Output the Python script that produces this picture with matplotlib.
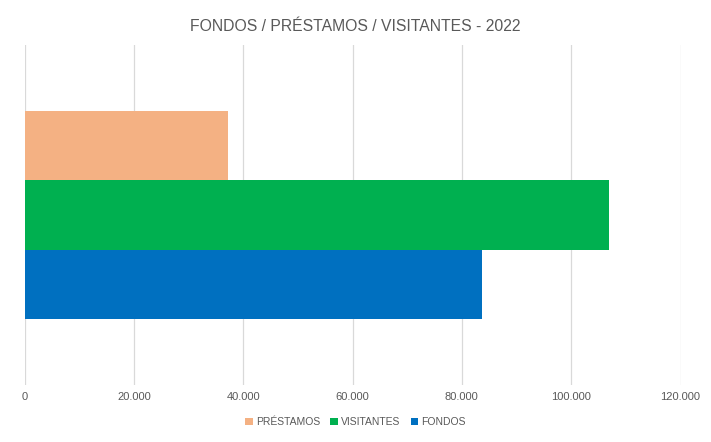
import matplotlib.pyplot as plt
from matplotlib.ticker import FuncFormatter

# data
series = ['PRÉSTAMOS', 'VISITANTES', 'FONDOS']
values = [37200, 107000, 83600]
colors = ['#F4B183', '#00B050', '#0070C0']
xticks = [0, 20000, 40000, 60000, 80000, 100000, 120000]

plt.rcParams['font.family'] = ['Liberation Sans', 'DejaVu Sans']

fig = plt.figure(figsize=(7.11, 4.42), dpi=100)
ax = fig.add_axes([24.5 / 711, 57 / 442, 656 / 711, 340 / 442])

positions = [1, 0, -1]
for pos, val, col, name in zip(positions, values, colors, series):
    ax.barh(pos, val, height=1.0, color=col, label=name, zorder=2)

ax.set_xlim(0, 120000)
ax.set_ylim(-2.46, 2.46)
ax.set_xticks(xticks)
ax.xaxis.set_major_formatter(FuncFormatter(lambda v, p: f'{int(v):,}'.replace(',', '.')))
ax.set_yticks([])
ax.tick_params(axis='x', length=0, labelsize=8, labelcolor='#595959', pad=5)
ax.grid(axis='x', color='#D9D9D9', linewidth=0.9, zorder=0)
for s in ax.spines.values():
    s.set_visible(False)

fig.suptitle('FONDOS / PRÉSTAMOS / VISITANTES - 2022', y=0.958, fontsize=11.3,
             color='#595959')

leg = fig.legend(loc='center', bbox_to_anchor=(0.5, 20 / 442), ncol=3, frameon=False,
                 fontsize=7.5, handlelength=0.7, handleheight=0.7, handletextpad=0.3,
                 columnspacing=1.0)
for t in leg.get_texts():
    t.set_color('#595959')

fig.savefig('out.png', dpi=100)
